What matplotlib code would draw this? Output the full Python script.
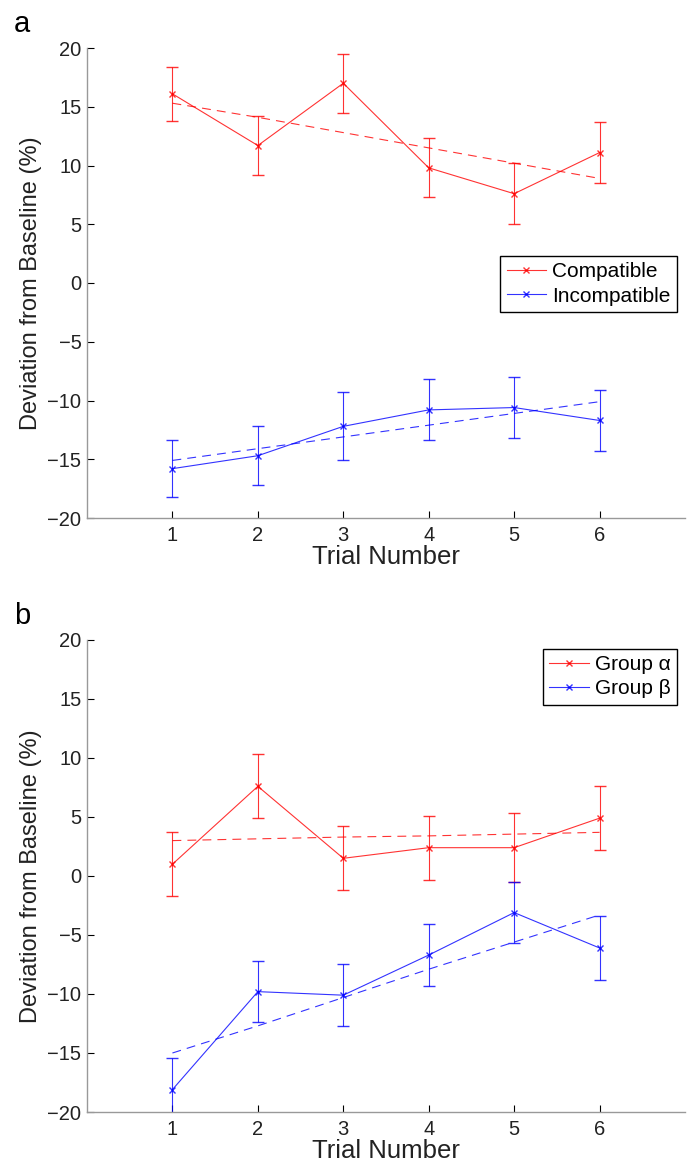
import matplotlib
matplotlib.use("Agg")
import matplotlib.pyplot as plt
from matplotlib.lines import Line2D
import numpy as np

plt.rcParams['font.family'] = ['Liberation Sans', 'DejaVu Sans']

trials = [1, 2, 3, 4, 5, 6]

compatible = [16.1, 11.7, 17.0, 9.8, 7.6, 11.1]
compatible_err = [2.3, 2.5, 2.5, 2.5, 2.6, 2.6]
compatible_trend = [15.3, 14.1, 12.8, 11.5, 10.2, 8.9]
incompatible = [-15.8, -14.7, -12.2, -10.8, -10.6, -11.7]
incompatible_err = [2.4, 2.5, 2.9, 2.6, 2.6, 2.6]
incompatible_trend = [-15.1, -14.1, -13.1, -12.1, -11.1, -10.1]

group_a = [1.0, 7.6, 1.5, 2.4, 2.4, 4.9]
group_a_err = [2.7, 2.7, 2.7, 2.7, 2.9, 2.7]
group_a_trend = [3.0, 3.15, 3.3, 3.4, 3.55, 3.7]
group_b = [-18.1, -9.8, -10.1, -6.7, -3.1, -6.1]
group_b_err = [2.7, 2.6, 2.6, 2.6, 2.6, 2.7]
group_b_trend = [-15.0, -12.7, -10.3, -7.9, -5.6, -3.3]

ytick_vals = [-20, -15, -10, -5, 0, 5, 10, 15, 20]
ytick_labels = ['\u221220', '\u221215', '\u221210', '\u22125', '0', '5', '10', '15', '20']

panels = [
    ('a', [87 / 690, 1 - 518 / 1165, 598 / 690, 470 / 1165],
     [('Compatible', compatible, compatible_err, compatible_trend, '#ff0000'),
      ('Incompatible', incompatible, incompatible_err, incompatible_trend, '#0000ff')],
     (0.9866, 0.557), 1 - 32 / 1165),
    ('b', [87 / 690, 1 - 1112 / 1165, 598 / 690, 472 / 1165],
     [('Group \u03b1', group_a, group_a_err, group_a_trend, '#ff0000'),
      ('Group \u03b2', group_b, group_b_err, group_b_trend, '#0000ff')],
     (0.9866, 0.981), 1 - 624 / 1165),
]

fig = plt.figure(figsize=(6.9, 11.65), dpi=100)
for letter, rect, series, anchor, letter_y in panels:
    ax = fig.add_axes(rect)
    handles = []
    for label, vals, err, trend, col in series:
        ax.errorbar(trials, vals, yerr=err, color=col, marker='x', markersize=4,
                    markeredgewidth=1.0, linewidth=0.8, elinewidth=0.8, capsize=4,
                    capthick=0.8, alpha=0.8)
        ax.plot(trials, trend, color=col, linestyle=(0, (8, 5.5)), linewidth=0.8, alpha=0.8)
        handles.append(Line2D([], [], color=col, marker='x', markersize=4,
                              markeredgewidth=1.0, linewidth=0.8, alpha=0.8, label=label))
    ax.set_xlim(0, 7)
    ax.set_ylim(-20, 20)
    ax.set_xticks(trials)
    ax.set_yticks(ytick_vals)
    ax.set_yticklabels(ytick_labels)
    for s in ['top', 'right']:
        ax.spines[s].set_visible(False)
    for s in ['left', 'bottom']:
        ax.spines[s].set_color('#999999')
        ax.spines[s].set_linewidth(1.0)
    ax.tick_params(direction='in', length=5, width=0.8, labelsize=14.5, colors='black')
    ax.tick_params(axis='x', pad=6)
    ax.tick_params(axis='y', pad=4)
    ax.tick_params(labelcolor='#222222')
    ax.set_xlabel('Trial Number', fontsize=18.5, labelpad=0, color='#222222')
    ax.set_ylabel('Deviation from Baseline (%)', fontsize=17, labelpad=4, color='#222222')
    leg = ax.legend(handles=handles, loc='upper right', bbox_to_anchor=anchor,
                    fontsize=15, frameon=True, fancybox=False, edgecolor='black',
                    handlelength=1.9, borderpad=0.3, labelspacing=0.25, handletextpad=0.3,
                    borderaxespad=0.0, framealpha=1.0)
    leg.get_frame().set_linewidth(1.0)
    fig.text(14 / 690, letter_y, letter, fontsize=21, va='baseline', ha='left')

fig.savefig('out.png', dpi=100)
